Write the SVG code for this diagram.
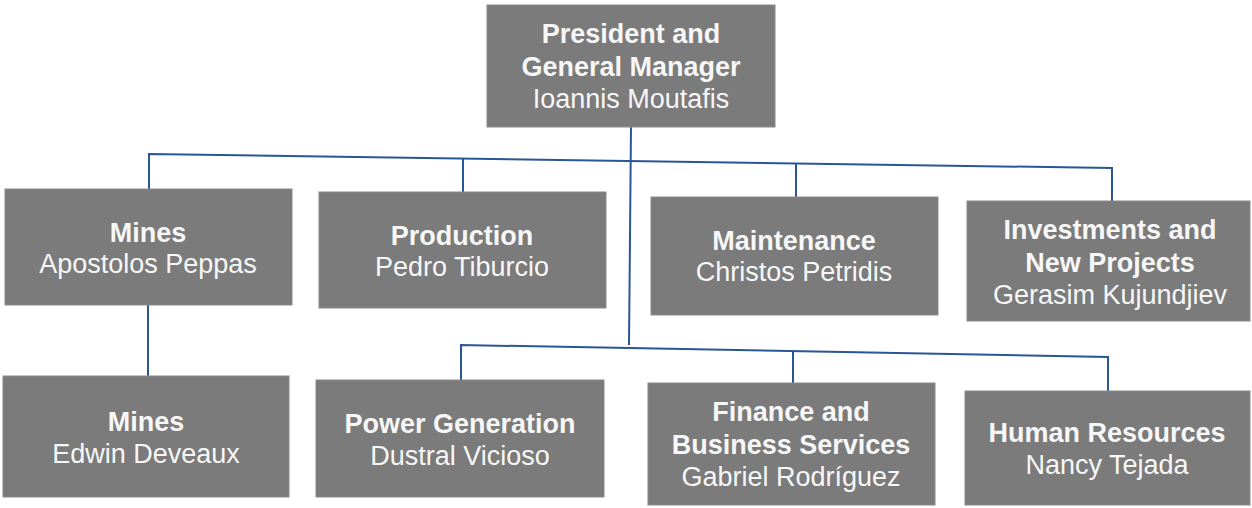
<svg xmlns="http://www.w3.org/2000/svg" width="1252" height="508" viewBox="0 0 1252 508">
<style>
.box{fill:#7b7b7b;stroke:#8a8a8a;stroke-width:1}
.t{font-family:"Liberation Sans",Arial,sans-serif;font-size:27px;fill:#f7f7f7;text-anchor:middle}
.b{font-weight:bold}
.c{stroke:#2a5597;stroke-width:2;fill:none}
</style>
<rect width="1252" height="508" fill="#ffffff"/>
<g id="connectors">
<path class="c" d="M631,127 L629,345"/>
<path class="c" d="M149,189 L149,154 L1112,168 L1112,201"/>
<path class="c" d="M463,159 L463,192"/>
<path class="c" d="M796,163 L796,197"/>
<path class="c" d="M461,380 L461,345 L1108,357 L1108,391"/>
<path class="c" d="M793,351 L793,383"/>
<path class="c" d="M148,305 L148,376"/>
</g>
<g id="president">
<rect class="box" x="487" y="5" width="288" height="122"/>
<text class="t b" x="631" y="43">President and</text>
<text class="t b" x="631" y="76">General Manager</text>
<text class="t" x="631" y="108">Ioannis Moutafis</text>
</g>
<g id="mines1">
<rect class="box" x="5" y="189" width="287" height="116"/>
<text class="t b" x="148" y="242">Mines</text>
<text class="t" x="148" y="273">Apostolos Peppas</text>
</g>
<g id="production">
<rect class="box" x="319" y="192" width="287" height="116"/>
<text class="t b" x="462" y="245">Production</text>
<text class="t" x="462" y="276">Pedro Tiburcio</text>
</g>
<g id="maintenance">
<rect class="box" x="651" y="197" width="287" height="118"/>
<text class="t b" x="794" y="250">Maintenance</text>
<text class="t" x="794" y="281">Christos Petridis</text>
</g>
<g id="investments">
<rect class="box" x="967" y="201" width="283" height="120"/>
<text class="t b" x="1110" y="239">Investments and</text>
<text class="t b" x="1110" y="272">New Projects</text>
<text class="t" x="1110" y="304">Gerasim Kujundjiev</text>
</g>
<g id="mines2">
<rect class="box" x="3" y="376" width="286" height="121"/>
<text class="t b" x="146" y="431">Mines</text>
<text class="t" x="146" y="463">Edwin Deveaux</text>
</g>
<g id="power">
<rect class="box" x="316" y="380" width="288" height="117"/>
<text class="t b" x="460" y="433">Power Generation</text>
<text class="t" x="460" y="465">Dustral Vicioso</text>
</g>
<g id="finance">
<rect class="box" x="648" y="383" width="287" height="122"/>
<text class="t b" x="791" y="421">Finance and</text>
<text class="t b" x="791" y="454">Business Services</text>
<text class="t" x="791" y="486">Gabriel Rodríguez</text>
</g>
<g id="hr">
<rect class="box" x="965" y="391" width="285" height="114"/>
<text class="t b" x="1107" y="442">Human Resources</text>
<text class="t" x="1107" y="474">Nancy Tejada</text>
</g>
</svg>
